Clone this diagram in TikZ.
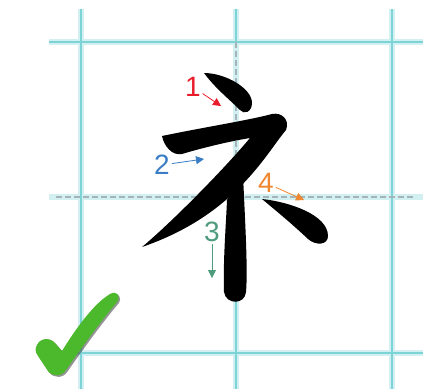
\documentclass[tikz,border=0pt]{standalone}
\usepackage{fontspec}
\setmainfont{Liberation Sans}
\usepackage{xcolor}
\usetikzlibrary{arrows.meta, positioning}

\definecolor{gridcyan}{RGB}{125,212,214}
\definecolor{guidegray}{RGB}{165,180,185}
\definecolor{numred}{RGB}{232,28,42}
\definecolor{numblue}{RGB}{58,125,196}
\definecolor{numgreen}{RGB}{78,155,125}
\definecolor{numorange}{RGB}{238,135,48}
\definecolor{tickgreen}{RGB}{76,184,44}

\tikzset{
    % Grid styles
    grid glow/.style={line width=6pt, gridcyan!35},
    grid line/.style={line width=2.5pt, gridcyan},
    guide line/.style={line width=1.2pt, guidegray, dash pattern=on 6pt off 3pt},
    % Stroke styles
    brush/.style={fill=black},
    % Number styles
    stroke num/.style={font=\fontsize{28}{28}\selectfont, inner sep=0pt},
    order arrow/.style={-{Triangle[length=8pt, width=8pt]}, line width=0.8pt, shorten <=2pt},
}

\begin{document}
\begin{tikzpicture}[x=1pt, y=-1pt]
    \useasboundingbox (0,0) rectangle (423,389);

    % Grid
    \foreach \x in {81, 236, 392} {
        \draw[grid glow] (\x,9) -- (\x,389);
    }
    \foreach \y in {42, 197, 353} {
        \draw[grid glow] (49,\y) -- (423,\y);
    }
    \draw[grid line] (81,9) -- (81,389);
    \draw[grid line] (392,9) -- (392,389);
    \draw[grid line] (236,9) -- (236,42);
    \draw[grid line] (236,197) -- (236,389);
    \draw[grid line] (49,42) -- (423,42);
    \draw[grid line] (49,353) -- (423,353);

    % Guide lines
    \draw[guide line] (56,197) -- (415,197);
    \draw[guide line] (236,42) -- (236,197);

    % Strokes
    \fill[brush] (204,73) .. controls (225,73) and (252,88) .. (252,103)
        .. controls (252,112) and (244,115) .. (240,110)
        .. controls (230,100) and (215,88) .. (204,73) -- cycle;
    \fill[brush] (162,136) .. controls (200,128) and (250,120) .. (272,114)
        .. controls (282,112) and (290,120) .. (286,130)
        .. controls (265,155) and (235,215) .. (142,247)
        .. controls (172,222) and (225,168) .. (250,138)
        .. controls (225,142) and (195,150) .. (182,154)
        .. controls (172,156) and (164,146) .. (162,136) -- cycle;
    \fill[brush] (227,200) -- (243,175) .. controls (245,220) and (248,270) .. (246,292)
        .. controls (245,305) and (226,305) .. (224,292)
        .. controls (223,260) and (226,225) .. (227,200) -- cycle;
    \fill[brush] (262,199) .. controls (290,202) and (328,215) .. (328,236)
        .. controls (328,245) and (316,246) .. (308,239)
        .. controls (290,222) and (275,210) .. (262,199) -- cycle;

    % Stroke numbers
    \node[stroke num, numred] (n1) at (193,87) {1};
    \node[stroke num, numblue] (n2) at (162,165) {2};
    \node[stroke num, numgreen] (n3) at (212,232) {3};
    \node[stroke num, numorange] (n4) at (266,183) {4};

    \coordinate (t1) at (221,106);
    \coordinate (t2) at (204,159);
    \coordinate (t3) at (212,278);
    \coordinate (t4) at (304,200);

    % Arrows
    \foreach \n/\c in {1/numred, 2/numblue, 3/numgreen, 4/numorange} {
        \draw[order arrow, \c] (n\n) -- (t\n);
    }

    % Check mark
    \fill[black!70, opacity=0.6, shift={(1.5,1.5)}] (37,345) .. controls (40,338) and (50,337) .. (55,343) -- (62,351)
        .. controls (78,325) and (95,303) .. (110,294)
        .. controls (117,290) and (121,296) .. (117,302)
        .. controls (100,322) and (80,350) .. (66,370)
        .. controls (62,377) and (52,377) .. (48,371) -- (38,356)
        .. controls (35,352) and (35,348) .. (37,345) -- cycle;
    \fill[tickgreen] (37,345) .. controls (40,338) and (50,337) .. (55,343) -- (62,351)
        .. controls (78,325) and (95,303) .. (110,294)
        .. controls (117,290) and (121,296) .. (117,302)
        .. controls (100,322) and (80,350) .. (66,370)
        .. controls (62,377) and (52,377) .. (48,371) -- (38,356)
        .. controls (35,352) and (35,348) .. (37,345) -- cycle;
\end{tikzpicture}
\end{document}
